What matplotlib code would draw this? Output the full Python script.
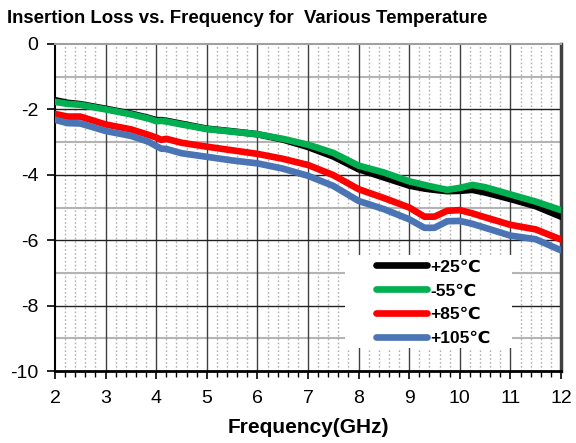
import matplotlib
matplotlib.use("Agg")
import matplotlib.pyplot as plt
import numpy as np
from matplotlib.ticker import MultipleLocator
from matplotlib.patches import Rectangle

plt.rcParams['font.family'] = ['Liberation Sans', 'DejaVu Sans']
plt.rcParams['axes.unicode_minus'] = False

freq = [2.0, 2.25, 2.5, 3.0, 3.5, 3.85, 4.0, 4.1, 4.2, 4.5, 5.0, 5.5, 6.0, 6.5, 7.0, 7.5,
        8.0, 8.5, 9.0, 9.3, 9.5, 9.75, 10.0, 10.25, 10.5, 11.0, 11.5, 12.0]
il_25 = [-1.72, -1.80, -1.84, -1.98, -2.13, -2.26, -2.33, -2.33, -2.35, -2.44, -2.59, -2.67, -2.76, -2.92, -3.15, -3.44,
         -3.83, -4.08, -4.33, -4.42, -4.46, -4.50, -4.49, -4.46, -4.54, -4.74, -4.96, -5.28]
il_m55 = [-1.77, -1.83, -1.86, -2.00, -2.15, -2.28, -2.36, -2.35, -2.37, -2.46, -2.60, -2.68, -2.76, -2.90, -3.08, -3.33,
          -3.72, -3.93, -4.20, -4.31, -4.38, -4.46, -4.40, -4.31, -4.38, -4.60, -4.82, -5.08]
il_85 = [-2.14, -2.22, -2.22, -2.46, -2.61, -2.78, -2.86, -2.93, -2.90, -3.02, -3.14, -3.25, -3.36, -3.51, -3.70, -4.01,
         -4.44, -4.71, -5.00, -5.28, -5.28, -5.10, -5.08, -5.18, -5.30, -5.53, -5.67, -5.98]
il_105 = [-2.32, -2.42, -2.43, -2.66, -2.81, -2.99, -3.12, -3.20, -3.21, -3.34, -3.45, -3.56, -3.65, -3.81, -4.03, -4.34,
          -4.80, -5.05, -5.36, -5.62, -5.62, -5.42, -5.41, -5.50, -5.62, -5.86, -5.97, -6.31]
labels = ['+25℃', '-55℃', '+85℃', '+105℃']
colors = ['#000000', '#00B050', '#FF0000', '#4A74B4']

fig = plt.figure(figsize=(5.76, 4.43), dpi=100)
ax = fig.add_axes([0.0955, 0.1625, 0.8785, 0.7382])

ax.set_xlim(2, 12)
ax.set_ylim(-10, 0)

# grid
for v in np.arange(2.2, 12, 0.2):
    if abs(v - round(v)) > 1e-6:
        ax.axvline(v, color='#b0b0b0', lw=1.0, ls=(0, (1.2, 1.6)), zorder=0)
for v in range(3, 12):
    ax.axvline(v, color='#404040', lw=1.0, zorder=0.5)
for v in [-1, -3, -5, -7, -9]:
    ax.axhline(v, color='#b4b4b4', lw=1.5, zorder=0.4)
for v in [-2, -4, -6, -8]:
    ax.axhline(v, color='#202020', lw=1.0, zorder=0.6)

series = [il_25, il_m55, il_85, il_105]
for s, c, l in zip(series, colors, labels):
    ax.plot(freq, s, color=c, lw=4.8, label=l, solid_capstyle='round', solid_joinstyle='round', zorder=3)

ax.xaxis.set_major_locator(MultipleLocator(1))
ax.xaxis.set_minor_locator(MultipleLocator(0.2))
ax.yaxis.set_major_locator(MultipleLocator(2))
ax.tick_params(axis='x', which='major', direction='out', length=6, width=1.2, labelsize=14, pad=7.5)
ax.tick_params(axis='x', which='minor', direction='out', length=4, width=1.0)
ax.tick_params(axis='y', which='major', direction='out', length=6, width=1.2, labelsize=14, pad=6)

ax.spines['top'].set_color('#a0a0a0')
ax.spines['top'].set_linewidth(1.5)
ax.spines['right'].set_color('#404040')
ax.spines['right'].set_linewidth(2.5)
ax.spines['bottom'].set_linewidth(2.0)
ax.spines['left'].set_linewidth(1.5)

ax.set_xlabel('Frequency(GHz)', fontsize=15, fontweight='bold', labelpad=8)

fig.text(0.012, 0.958, 'Insertion Loss vs. Frequency for  Various Temperature', fontsize=13.4,
         fontweight='bold', ha='left', va='center')

# white legend panel
ax.add_patch(Rectangle((0.573, 0.070), 0.330, 0.285, transform=ax.transAxes,
                       facecolor='white', edgecolor='none', zorder=4))
leg = ax.legend(loc='upper left', bbox_to_anchor=(0.628, 0.352), borderaxespad=0, frameon=False,
                prop={'weight': 'bold', 'size': 12.5},
                handlelength=2.9, handletextpad=0.2, labelspacing=0.5, borderpad=0.2)
leg.set_zorder(5)

fig.savefig('out.png', dpi=100)
